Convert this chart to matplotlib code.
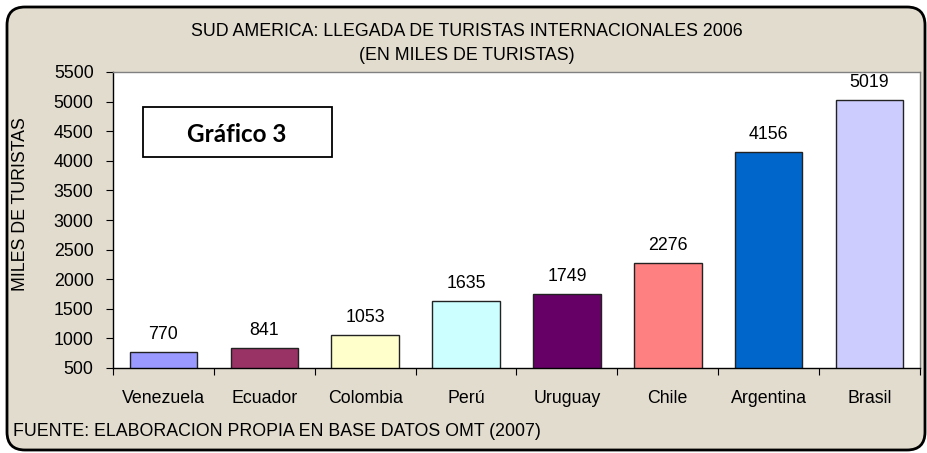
import numpy as np
import matplotlib
matplotlib.use("Agg")
import matplotlib.pyplot as plt
from matplotlib.patches import FancyBboxPatch, Rectangle

# Datos: llegada de turistas internacionales 2006 (miles)
paises = ['Venezuela', 'Ecuador', 'Colombia', 'Perú', 'Uruguay', 'Chile', 'Argentina', 'Brasil']
turistas = [770, 841, 1053, 1635, 1749, 2276, 4156, 5019]
colores = ['#9999FF', '#993366', '#FFFFCC', '#CCFFFF', '#660066', '#FF8080', '#0066CC', '#CCCCFF']
y_ticks = list(range(500, 5501, 500))

plt.rcParams['font.family'] = ['Liberation Sans', 'DejaVu Sans']
fs = 12.8

W, H = 928, 453
fig = plt.figure(figsize=(W / 100, H / 100), dpi=100)
fig.patch.set_facecolor('white')

# Fondo tipo pergamino con borde redondeado
bg = fig.add_axes([0, 0, 1, 1], zorder=0)
bg.set_xlim(0, W)
bg.set_ylim(H, 0)
bg.axis('off')
bg.add_patch(FancyBboxPatch((7, 7), 918, 443, boxstyle='round,pad=0,rounding_size=18',
                            facecolor='#E2DCCF', edgecolor='black', linewidth=2))

# Area del grafico
ax = fig.add_axes([113 / W, 1 - 368 / H, (920 - 113) / W, (368 - 72) / H], zorder=1)
ax.set_facecolor('white')
x = np.arange(len(paises))
ax.bar(x, turistas, width=0.67, color=colores, edgecolor='#222222', linewidth=1.0,
       bottom=0, zorder=2)
ax.set_xlim(-0.5, len(paises) - 0.5)
ax.set_ylim(500, 5500)
ax.set_yticks(y_ticks)
ax.tick_params(axis='y', direction='out', length=5, width=0.8, pad=9, labelsize=fs)

ax.set_xticks(x)
ax.set_xticklabels(paises)
ax.set_xticks(np.arange(-0.5, len(paises)), minor=True)
ax.tick_params(axis='x', which='major', length=0, pad=16, labelsize=fs)
ax.tick_params(axis='x', which='minor', direction='out', length=5, width=0.8)

for s in ['left', 'bottom']:
    ax.spines[s].set_color('black')
    ax.spines[s].set_linewidth(1.0)
for s in ['top', 'right']:
    ax.spines[s].set_color('#808080')
    ax.spines[s].set_linewidth(1.0)

for xi, v in zip(x, turistas):
    ax.annotate(str(v), (xi, v), xytext=(0, 6.5), textcoords='offset points',
                ha='center', va='bottom', fontsize=fs)

# Titulo, etiquetas y fuente
fig.text(467 / W, 1 - 32 / H, 'SUD AMERICA: LLEGADA DE TURISTAS INTERNACIONALES 2006',
         ha='center', va='center', fontsize=fs)
fig.text(467 / W, 1 - 55 / H, '(EN MILES DE TURISTAS)', ha='center', va='center', fontsize=fs)
fig.text(21 / W, 1 - 204 / H, 'MILES DE TURISTAS', rotation=90, ha='center', va='center', fontsize=fs)
fig.text(13 / W, 1 - 432 / H, 'FUENTE: ELABORACION PROPIA EN BASE DATOS OMT (2007)',
         ha='left', va='center', fontsize=fs)

# Recuadro "Gráfico 3"
ov = fig.add_axes([0, 0, 1, 1], zorder=3)
ov.set_xlim(0, W)
ov.set_ylim(H, 0)
ov.axis('off')
ov.add_patch(Rectangle((143, 107), 189, 50, facecolor='white', edgecolor='black', linewidth=1.3))
ov.text(237, 134, 'Gráfico 3', ha='center', va='center', fontsize=17.5, fontweight='bold',
        family=['Lato', 'DejaVu Sans'])

fig.savefig('out.png', dpi=100)
